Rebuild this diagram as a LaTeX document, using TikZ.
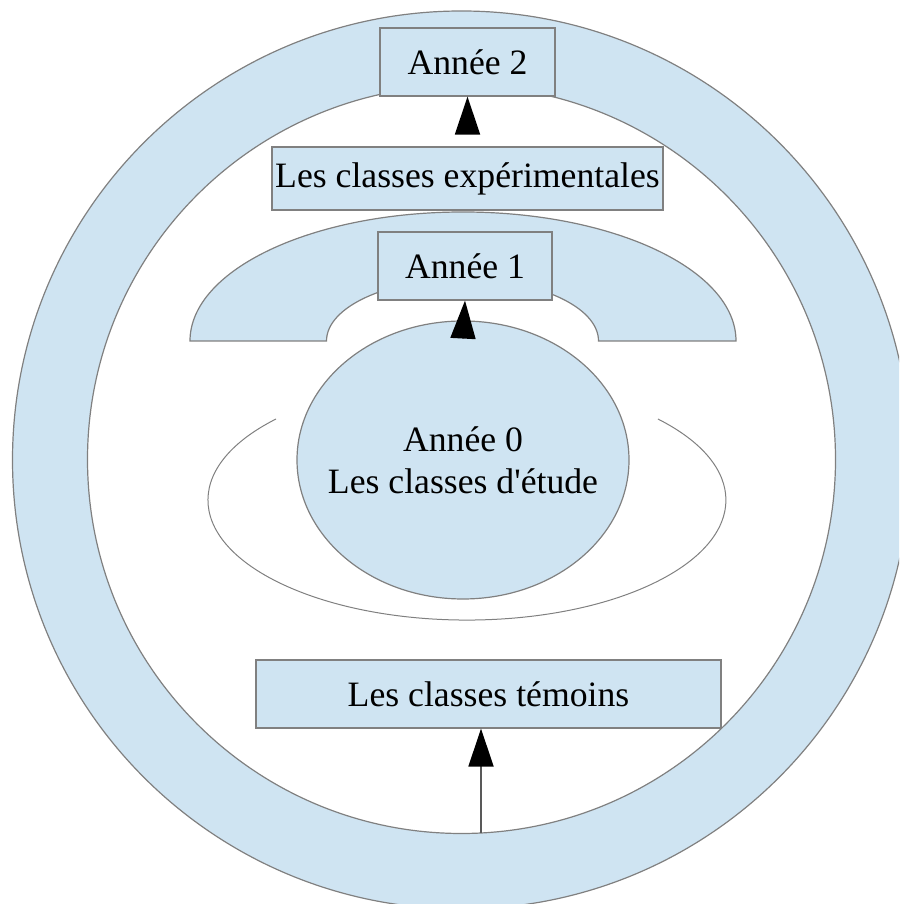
\documentclass[tikz,border=0pt]{standalone}
\usepackage{fontspec}
\setmainfont{Liberation Serif}
\usetikzlibrary{arrows.meta,shapes.geometric}
\definecolor{ringblue}{RGB}{207,228,242}
\definecolor{edgegray}{RGB}{128,128,128}
\tikzset{
  yearbox/.style={draw=edgegray,line width=1.2pt,fill=ringblue,inner sep=0pt},
  upto/.style={draw=black!65,line width=1.8pt,-{Triangle[length=38pt,width=25pt,black]}}
}

\begin{document}
\begin{tikzpicture}[x=1pt,y=1pt,font=\fontsize{35.7}{41.7}\selectfont]
\useasboundingbox (0,0) rectangle (899,904);
\clip (0,0) rectangle (899,904);
% outer ring
\fill[ringblue,even odd rule] (461.5,444) circle (449) (461.5,444.5) circle (374);
\draw[edgegray,line width=1.2pt] (461.5,444) circle (449) (461.5,444.5) circle (374);
% half ring of year 1
\filldraw[fill=ringblue,draw=edgegray,line width=1.2pt]
    (190,563) arc[start angle=180,end angle=0,x radius=273,y radius=129]
    -- (598.5,563) arc[start angle=0,end angle=180,x radius=136,y radius=62] -- cycle;
\draw[edgegray,line width=1pt]
    (276,485) arc[start angle=137.5,end angle=402.5,x radius=259,y radius=120];
\node[yearbox,ellipse,minimum width=332pt,minimum height=278pt] (a0) at (463,444) {};
\node[align=center] (a0txt) at (a0) {Année 0\\Les classes d\textquotesingle étude};

\node[yearbox,minimum width=175pt,minimum height=68pt] (a2) at (467.5,842) {Année 2};
\node[yearbox,minimum width=391pt,minimum height=63pt] (exp) at (467.5,725.5) {Les classes expérimentales};
\node[yearbox,minimum width=174pt,minimum height=68pt] (a1) at (465,638) {Année 1};
\node[yearbox,minimum width=465pt,minimum height=68pt] (tem) at (488.5,210) {Les classes témoins};
\coordinate (base) at (481,71);

\draw[upto,shorten <=13pt] (exp.north) -- (a2.south);
\draw[upto] ([yshift=-18pt]a0.north) -- (a1.south);
\draw[upto] (base) -- (base |- tem.south);
\end{tikzpicture}
\end{document}
